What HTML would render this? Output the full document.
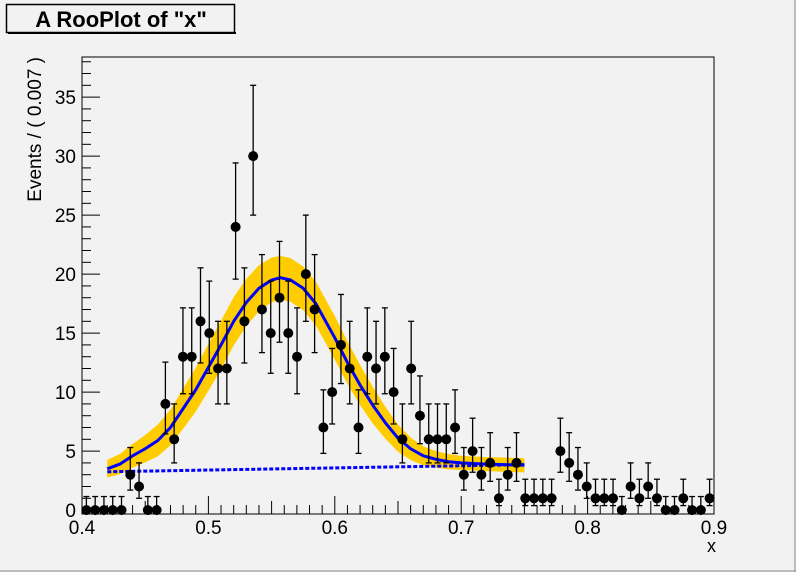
<!DOCTYPE html>
<html><head><meta charset="utf-8"><style>
body{margin:0;background:#f2f2f2;font-family:"Liberation Sans",sans-serif}
svg{display:block}
</style></head><body>
<svg id="c" width="796" height="572" xmlns="http://www.w3.org/2000/svg">
<rect x="0" y="0" width="796" height="572" fill="#f2f2f2"/>
<line x1="795" y1="0" x2="795" y2="572" stroke="#888"/>
<line x1="0" y1="571" x2="796" y2="571" stroke="#888"/>
<g>
<rect x="6.5" y="4.5" width="228" height="28" fill="#f2f2f2" stroke="#000" stroke-width="1.5"/>
<rect x="8" y="32" width="228" height="2" fill="#000"/>
<text x="121" y="27" text-anchor="middle" font-size="22" font-weight="bold">A RooPlot of "x"</text>
</g>
<g id="plot"></g>
</svg>
<script>
const counts=[0,0,0,0,0,3,2,0,0,9,6,13,13,16,15,12,12,24,16,30,17,15,18,15,13,20,17,7,10,14,12,7,13,12,13,10,6,12,8,6,6,6,7,3,5,3,4,1,3,4,1,1,1,1,5,4,3,2,1,1,1,0,2,1,2,1,0,0,1,0,0,1];
const curveX=[0.42,0.43,0.44,0.45,0.46,0.47,0.48,0.49,0.50,0.51,0.52,0.53,0.54,0.55,0.557,0.565,0.575,0.585,0.60,0.61,0.62,0.63,0.64,0.65,0.66,0.67,0.68,0.69,0.70,0.72,0.75];
const curveY=[3.5,3.9,4.6,5.2,5.9,7.0,8.6,10.2,12.1,14.0,16.0,17.6,18.8,19.5,19.7,19.5,18.8,17.5,14.6,12.5,10.6,8.9,7.4,6.1,5.2,4.6,4.3,4.1,4.0,3.9,3.8];
const bandHalf=[0.75,0.85,1.0,1.15,1.35,1.5,1.7,1.85,2.0,2.05,2.05,2.0,1.95,1.9,1.85,1.85,1.85,1.85,1.85,1.8,1.7,1.55,1.35,1.15,0.95,0.8,0.7,0.65,0.6,0.6,0.6];
const bkgX=[0.42,0.75];
const bkgY=[3.25,3.85];
const xTicks=[0.4,0.5,0.6,0.7,0.8,0.9];
const yTicks=[0,5,10,15,20,25,30,35];
const X0=82,X1=714,Y0=514,Y1=57,xmin=0.4,xmax=0.9,ymin=-0.33,ymax=38.4;
const sx=v=>X0+(v-xmin)/(xmax-xmin)*(X1-X0);
const sy=v=>Y0-(v-ymin)/(ymax-ymin)*(Y0-Y1);
const NS='http://www.w3.org/2000/svg';
const g=document.getElementById('plot');
function mk(t,a,p){const e=document.createElementNS(NS,t);for(const k in a)e.setAttribute(k,a[k]);(p||g).appendChild(e);return e;}
const fr=mk('rect',{x:X0,y:Y1,width:X1-X0,height:Y0-Y1,fill:'#f2f2f2',stroke:'#000','stroke-width':1});


const ya=mk('g',{});


for(let v=0;v<=38;v++){const y=sy(v);const big=v%5===0;mk('line',{x1:X0,x2:X0+(big?18:9),y1:y,y2:y,stroke:'#000'},ya);}
yTicks.forEach(v=>{const t=mk('text',{x:X0-6,y:sy(v)+7,'text-anchor':'end','font-size':19},ya);t.textContent=v;

});
const yt=mk('text',{transform:'translate(41,57) rotate(-90)','text-anchor':'end','font-size':19});
yt.textContent='Events / ( 0.007 )';


const xa=mk('g',{});


for(let i=0;i<=50;i++){const v=0.4+i*0.01;const x=sx(v);const big=i%10===0,mid=i%5===0;mk('line',{x1:x,x2:x,y1:Y0,y2:Y0-(big?18:(mid?13:9)),stroke:'#000'},xa);}
xTicks.forEach(v=>{const t=mk('text',{x:sx(v),y:Y0+20,'text-anchor':'middle','font-size':19},xa);t.textContent=v.toFixed(1);

});
const xt=mk('text',{x:716,y:552,'text-anchor':'end','font-size':18});
xt.textContent='x';


let up=curveX.map((x,i)=>sx(x)+','+sy(curveY[i]+bandHalf[i]));
let dn=curveX.map((x,i)=>sx(x)+','+sy(curveY[i]-bandHalf[i])).reverse();
const band=mk('polygon',{points:up.concat(dn).join(' '),fill:'#ffcc00'});


const bk=mk('polyline',{points:bkgX.map((x,i)=>sx(x)+','+sy(bkgY[i])).join(' '),fill:'none',stroke:'#0000ff','stroke-width':3,'stroke-dasharray':'4 2'});


const tc=mk('polyline',{points:curveX.map((x,i)=>sx(x)+','+sy(curveY[i])).join(' '),fill:'none',stroke:'#0000ff','stroke-width':3,'stroke-linejoin':'round'});


const N=counts.length,bw=(xmax-xmin)/N;
counts.forEach((n,i)=>{const xc=sx(xmin+(i+0.5)*bw);const s=Math.sqrt(n+0.25);const hi=n+s+0.5+(n===0?0.15:0),lo=Math.max(0,n-s+0.5);
const pg=mk('g',{});


mk('line',{x1:xc,x2:xc,y1:sy(hi),y2:sy(lo),stroke:'#000','stroke-width':1.3},pg);
mk('line',{x1:xc-3,x2:xc+3,y1:sy(hi),y2:sy(hi),stroke:'#000','stroke-width':1.3},pg);
if(n>0)mk('line',{x1:xc-3,x2:xc+3,y1:sy(lo),y2:sy(lo),stroke:'#000','stroke-width':1.3},pg);
mk('circle',{cx:xc,cy:sy(n),r:5,fill:'#000'},pg);});
</script>
</body></html>
